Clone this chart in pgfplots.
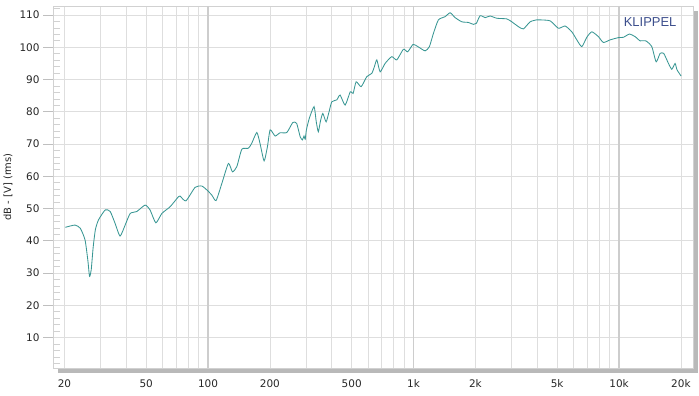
\documentclass[border=0pt]{standalone}
\usepackage{pgfplots}
\pgfplotsset{compat=1.18}
\usepackage{fontspec}
\setmainfont{DejaVu Sans}
\newfontfamily\logofont{Liberation Sans}
\definecolor{curve}{RGB}{56,150,147}
\definecolor{gridc}{RGB}{222,222,222}
\definecolor{gridmaj}{RGB}{205,205,205}
\definecolor{klip}{RGB}{60,78,140}
\definecolor{shadowc}{RGB}{185,185,185}
\begin{document}
\begin{tikzpicture}
\path[use as bounding box] (-53bp,-28bp) rectangle (646bp,368bp);
\begin{axis}[
  at={(0,0)}, anchor=south west,
  scale only axis, width=640bp, height=362bp,
  xmode=log, log basis x=10,
  xmin=17.6, xmax=22900, ymin=0.6, ymax=112.8,
  axis line style={draw=black!18},
  xtick={20,30,40,50,60,70,80,90,100,200,300,400,500,600,700,800,900,1000,2000,3000,4000,5000,6000,7000,8000,9000,10000,20000},
  xticklabels={20,,,50,,,,,100,200,,,500,,,,,1k,2k,,,5k,,,,,10k,20k},
  xmajorgrids,
  extra x ticks={100,1000,10000},
  extra x tick labels={,,},
  extra x tick style={grid=major, major grid style={draw=gridmaj, line width=1.6bp}},
  x tick style={draw=none},
  major x tick style={draw=none},
  ytick={10,20,30,40,50,60,70,80,90,100,110},
  minor ytick={2,4,6,8,12,14,16,18,22,24,26,28,32,34,36,38,42,44,46,48,52,54,56,58,62,64,66,68,72,74,76,78,82,84,86,88,92,94,96,98,102,104,106,108,112},
  ymajorgrids,
  major grid style={draw=gridc, line width=0.8bp},
  ytick pos=left, xtick pos=bottom,
  tick align=outside,
  major tick length=10bp,
  minor tick length=7bp,
  y tick style={draw=black!25, line width=0.8bp},
  minor y tick style={xshift=7bp, draw=black!18},
  /pgf/number format/assume math mode=true,
  tick label style={font=\fontsize{10.5}{12}\selectfont, text=black!85},
  xticklabel style={yshift=2bp},
  ylabel={dB - [V] (rms)},
  ylabel style={at={(axis description cs:0,0.5)}, anchor=center, yshift=45bp, font=\fontsize{10}{12}\selectfont, text=black!85},
  clip=true,
]
\addplot[curve, line width=0.85bp, smooth, tension=0.35] table {
f db
20.2 44.2
22.5 44.9
23.9 43.9
25.2 40.3
26.0 34.0
26.5 29.0
27.0 31.0
27.6 38.0
28.3 43.5
29.3 46.5
31.6 49.6
33.4 49.1
35.3 45.4
37.3 41.5
39.5 44.9
41.8 48.5
45.0 49.1
49.4 51.1
52.2 49.6
55.7 45.6
59.6 48.5
65.4 50.6
71.8 53.7
73.1 53.9
78.0 52.4
86.5 56.6
93.2 57.0
98.6 55.8
104.3 54.2
109.4 52.5
116.7 57.8
125.6 64.0
131.4 61.4
138 63.0
146 68.4
157 68.7
163 70.2
172.7 73.6
179 70.2
187.4 64.8
194.5 69.2
200.5 74.4
212 72.5
224 73.5
241.7 73.6
258.5 76.7
270 76.4
280.6 72.3
287.9 71.3
293 72.5
297 71.5
301 74.4
311 78.0
328 81.6
336 77.0
344 73.8
352 77.0
361.7 79.5
375.4 76.9
388 80.0
400 83.1
423 83.7
439 85.2
464.5 82.1
492 86.2
508 85.7
525.5 89.3
556 87.8
592 90.9
626 91.9
645 94.0
662.6 96.1
687.6 92.4
727 95.0
783.5 97.1
828.6 96.1
892.6 99.4
936 98.6
994.5 100.9
1050 100.2
1138 98.9
1194 100.2
1249 104.3
1321 108.5
1424 109.5
1507 110.7
1593 109.2
1718 107.9
1849 107.7
1956 107.1
2020 107.4
2109 109.8
2230 109.2
2358 109.7
2541 109.0
2843 108.8
3007 107.9
3238 106.4
3424 105.7
3692 107.9
3970 108.5
4128 108.5
4618 108.2
5070 105.9
5465 106.6
5891 104.8
6230 102.3
6587 100.2
6966 103.1
7370 104.8
7934 103.3
8390 101.5
9046 102.3
9930 103.0
10500 103.1
11230 104.1
11970 103.3
12660 102.0
13500 102.0
14430 100.2
15150 95.5
15840 98.1
16500 98.1
17390 95.0
18060 93.2
18740 95.0
19150 93.0
20040 91.1
};
\node[font=\logofont\fontsize{13}{14}\selectfont, text=klip] at (rel axis cs:0.933,0.956) {KLIPPEL};
\end{axis}
\fill[shadowc] ([xshift=5bp,yshift=-1bp]current axis.south west) rectangle ([xshift=5bp,yshift=-5bp]current axis.south east);
\fill[shadowc] ([xshift=1bp,yshift=-5bp]current axis.north east) rectangle ([xshift=5bp,yshift=-5bp]current axis.south east);
\end{tikzpicture}
\end{document}
